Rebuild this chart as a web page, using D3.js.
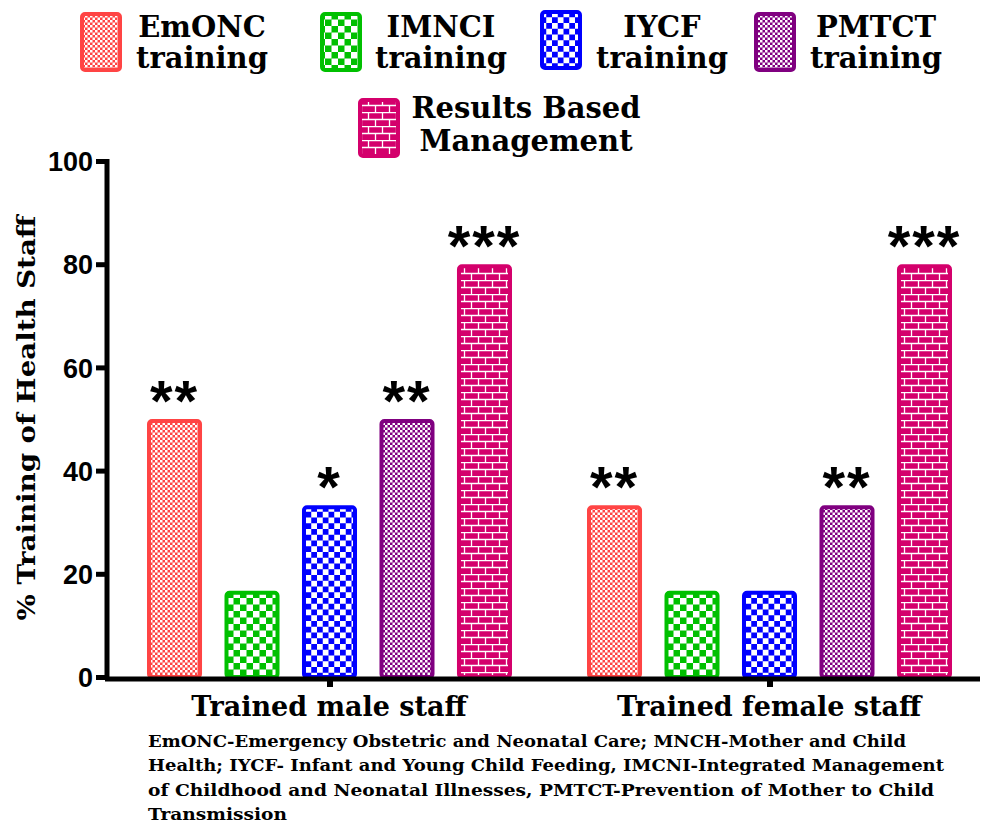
<!DOCTYPE html>
<html lang="en">
<head>
<meta charset="utf-8">
<script src="https://d3js.org/d3.v7.min.js"></script>
<style>
  body { margin: 0; background: white; }
  svg { background: white; }
  .serif { font-family: 'DejaVu Serif', serif; font-weight: bold; fill: black; }
  .tick-label { font-family: 'Liberation Sans', Arial, sans-serif; font-weight: bold; font-size: 27px; }
  .star { font-family: 'Liberation Sans', Arial, sans-serif; font-weight: bold; font-size: 58px; }
</style>
</head>
<body>
<svg width="982" height="829"></svg>
<script>
// data
var groups = ["Trained male staff", "Trained female staff"];
var series = ["EmONC training", "IMNCI training", "IYCF training", "PMTCT training", "Results Based Management"];
var maleValues = [50, 16.7, 33.3, 50, 80];
var femaleValues = [33.3, 16.7, 16.7, 33.3, 80];
var maleStars = ["**", "", "*", "**", "***"];
var femaleStars = ["**", "", "", "**", "***"];
var yTicks = [0, 20, 40, 60, 80, 100];
var footnote = [
  "EmONC-Emergency Obstetric and Neonatal Care; MNCH-Mother and Child",
  "Health; IYCF- Infant and Young Child Feeding, IMCNI-Integrated Management",
  "of Childhood and Neonatal Illnesses, PMTCT-Prevention of Mother to Child",
  "Transmission"
];

var colors = ["#ff4444", "#00c000", "#0000ff", "#800080", "#d4006c"];

var svg = d3.select("svg");
var defs = svg.append("defs");

// fill patterns
function checker(id, color, cell) {
  var p = defs.append("pattern").attr("id", id)
      .attr("patternUnits", "userSpaceOnUse")
      .attr("width", cell * 2).attr("height", cell * 2);
  p.append("rect").attr("width", cell * 2).attr("height", cell * 2).attr("fill", color);
  p.append("rect").attr("width", cell).attr("height", cell).attr("fill", "white");
  p.append("rect").attr("x", cell).attr("y", cell).attr("width", cell).attr("height", cell).attr("fill", "white");
}
checker("p0", colors[0], 2.5);
checker("p1", colors[1], 6.5);
checker("p2", colors[2], 5.75);
checker("p3", colors[3], 2.5);
(function () {
  var p = defs.append("pattern").attr("id", "p4")
      .attr("patternUnits", "userSpaceOnUse")
      .attr("width", 14).attr("height", 14);
  p.append("rect").attr("width", 14).attr("height", 14).attr("fill", colors[4]);
  p.append("path")
      .attr("d", "M0,0.5H14M0,7.5H14M4.5,0V7M11.5,7V14")
      .attr("stroke", "white").attr("stroke-width", 1.3).attr("fill", "none");
})();

var y = d3.scaleLinear().domain([0, 100]).range([677, 161]);
var x0 = d3.scaleBand().domain(groups).range([110, 990]);
var x1 = d3.scaleBand().domain(series).range([37, 402]).paddingInner(0.29);

var valuesByGroup = [maleValues, femaleValues];
var starsByGroup = [maleStars, femaleStars];

// bars
groups.forEach(function (g, gi) {
  var gg = svg.append("g").attr("transform", "translate(" + x0(g) + ",0)");
  var rows = series.map(function (s, i) {
    return { s: s, i: i, v: valuesByGroup[gi][i], star: starsByGroup[gi][i] };
  });
  gg.selectAll("rect").data(rows).enter().append("rect")
      .attr("x", function (d) { return x1(d.s) + 2; })
      .attr("y", function (d) { return y(d.v) + 2; })
      .attr("width", x1.bandwidth() - 4)
      .attr("height", function (d) { return y(0) - y(d.v) - 2; })
      .attr("rx", 3)
      .attr("fill", function (d) { return "url(#p" + d.i + ")"; })
      .attr("stroke", function (d) { return colors[d.i]; })
      .attr("stroke-width", 4);
  gg.selectAll("text.star").data(rows.filter(function (d) { return d.star; })).enter().append("text")
      .attr("class", "star")
      .attr("x", function (d) { return x1(d.s) + x1.bandwidth() / 2; })
      .attr("y", function (d) { return y(d.v) + 2; })
      .attr("text-anchor", "middle")
      .attr("letter-spacing", 2)
      .text(function (d) { return d.star; });
});

// y axis
var yAxis = svg.append("g").attr("transform", "translate(107,0)")
    .call(d3.axisLeft(y).tickValues(yTicks).tickSize(11).tickPadding(3));
yAxis.select(".domain").attr("stroke", "black").attr("stroke-width", 5)
    .attr("d", "M0," + (y(100) - 2) + "V" + (y(0) + 3));
yAxis.selectAll(".tick line").attr("stroke", "black").attr("stroke-width", 5);
yAxis.selectAll(".tick text").attr("class", "tick-label").attr("fill", "black").attr("dy", "0.36em");

// x axis
var xAxis = svg.append("g").attr("transform", "translate(0,679)")
    .call(d3.axisBottom(x0).tickSize(8).tickFormat(""));
xAxis.select(".domain").attr("stroke", "black").attr("stroke-width", 5)
    .attr("d", "M105,0H980");
xAxis.selectAll(".tick line").attr("stroke", "black").attr("stroke-width", 6);

svg.selectAll("text.cat").data(groups).enter().append("text")
    .attr("class", "serif cat")
    .attr("x", function (d) { return x0(d) + x0.bandwidth() / 2 - 1; })
    .attr("y", 716)
    .attr("text-anchor", "middle")
    .attr("font-size", 27)
    .text(function (d) { return d; });

// y label
svg.append("text").attr("class", "serif")
    .attr("transform", "translate(35,418) rotate(-90)")
    .attr("text-anchor", "middle")
    .attr("font-size", 25)
    .attr("textLength", 405)
    .attr("lengthAdjust", "spacingAndGlyphs")
    .text("% Training of Health Staff");

// legend
var legendPos = [
  { sx: 80, sy: 12, tx: 202, ty: 37 },
  { sx: 320, sy: 12, tx: 441, ty: 37 },
  { sx: 540, sy: 10, tx: 662, ty: 37 },
  { sx: 754, sy: 12, tx: 876, ty: 37 },
  { sx: 358, sy: 98, tx: 526, ty: 118 }
];
var legendLines = [
  ["EmONC", "training"], ["IMNCI", "training"], ["IYCF", "training"],
  ["PMTCT", "training"], ["Results Based", "Management"]
];
series.forEach(function (s, i) {
  var p = legendPos[i];
  svg.append("rect")
      .attr("x", p.sx + 2).attr("y", p.sy + 2)
      .attr("width", 38).attr("height", 56).attr("rx", 3)
      .attr("fill", "url(#p" + i + ")")
      .attr("stroke", colors[i]).attr("stroke-width", 4);
  var t = svg.append("text").attr("class", "serif")
      .attr("font-size", 29).attr("text-anchor", "middle");
  legendLines[i].forEach(function (ln, k) {
    t.append("tspan").attr("x", p.tx).attr("y", p.ty + k * (i === 4 ? 33 : 31)).text(ln);
  });
});

// footnote
var footWidths = [758, 796, 786, 139];
svg.selectAll("text.foot").data(footnote).enter().append("text")
    .attr("class", "serif foot")
    .attr("x", 148)
    .attr("y", function (d, i) { return 747 + i * 24.4; })
    .attr("font-size", 16.5)
    .attr("textLength", function (d, i) { return footWidths[i]; })
    .attr("lengthAdjust", "spacingAndGlyphs")
    .text(function (d) { return d; });
</script>
</body>
</html>
